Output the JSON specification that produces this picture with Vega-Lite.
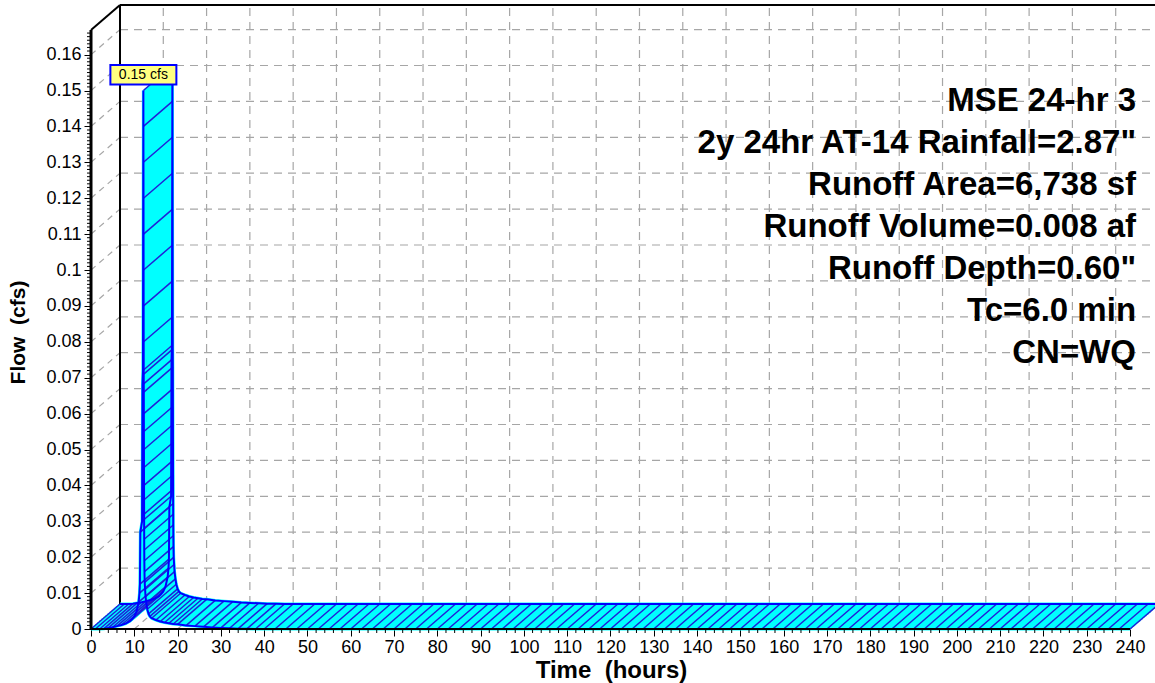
{
  "$schema": "https://vega.github.io/schema/vega-lite/v6.json",
  "width": 1064,
  "height": 629,
  "autosize": "none",
  "padding": {"left": 91, "top": 0, "right": 0, "bottom": 54},
  "background": "white",
  "config": {
    "view": {"stroke": null},
    "font": "Liberation Sans",
    "axis": {"labelFont": "Liberation Sans", "titleFont": "Liberation Sans", "labelColor": "black", "titleColor": "black", "tickColor": "black", "domain": false, "grid": false, "labelFontSize": 18, "titleFontSize": 24, "titleFontWeight": "bold", "labelOverlap": false, "labelFlush": false, "labelBound": false, "tickWidth": 1, "tickSize": 7, "tickCount": 100},
    "axisX": {"labelPadding": 2, "titlePadding": 2},
    "axisY": {"labelPadding": 3, "titlePadding": 17, "titleFontSize": 21}
  },
  "datasets": {
    "hydro": [
      {"t":0,"q":0},{"t":1,"q":0},{"t":2,"q":0},{"t":3,"q":0.0001},{"t":4,"q":0.0003},{"t":5,"q":0.0005},{"t":6,"q":0.0008},{"t":7,"q":0.0011},{"t":8,"q":0.0015},{"t":9,"q":0.0022},{"t":9.5,"q":0.0028},{"t":10,"q":0.0035},{"t":10.5,"q":0.0048},{"t":11,"q":0.0075},{"t":11.2,"q":0.01},{"t":11.3,"q":0.0125},{"t":11.4,"q":0.027},{"t":11.8,"q":0.03},{"t":11.9,"q":0.068},{"t":12,"q":0.072},{"t":12.1,"q":0.15},{"t":12.11,"q":0.14},{"t":12.12,"q":0.13},{"t":12.13,"q":0.12},{"t":12.14,"q":0.11},{"t":12.15,"q":0.1},{"t":12.16,"q":0.09},{"t":12.17,"q":0.08},{"t":12.18,"q":0.071},{"t":12.2,"q":0.066},{"t":12.21,"q":0.06},{"t":12.22,"q":0.055},{"t":12.23,"q":0.05},{"t":12.24,"q":0.045},{"t":12.25,"q":0.04},{"t":12.26,"q":0.036},{"t":12.27,"q":0.032},{"t":12.28,"q":0.028},{"t":12.29,"q":0.025},{"t":12.3,"q":0.022},{"t":12.32,"q":0.019},{"t":12.35,"q":0.016},{"t":12.4,"q":0.013},{"t":12.5,"q":0.011},{"t":12.6,"q":0.009},{"t":12.8,"q":0.007},{"t":13,"q":0.0055},{"t":13.3,"q":0.0042},{"t":13.6,"q":0.0035},{"t":14,"q":0.003},{"t":15,"q":0.0025},{"t":16,"q":0.0021},{"t":17,"q":0.0018},{"t":18,"q":0.0016},{"t":19,"q":0.0014},{"t":20,"q":0.0013},{"t":22,"q":0.001},{"t":24,"q":0.0008},{"t":26,"q":0.0006},{"t":28,"q":0.0004},{"t":30,"q":0.0003},{"t":32,"q":0.0002},{"t":34,"q":0.0001},{"t":36,"q":0.00005},{"t":38,"q":0},
      {"t":40,"q":0},{"t":42.5,"q":0},{"t":45,"q":0},{"t":47.5,"q":0},{"t":50,"q":0},{"t":52.5,"q":0},{"t":55,"q":0},{"t":57.5,"q":0},{"t":60,"q":0},{"t":62.5,"q":0},{"t":65,"q":0},{"t":67.5,"q":0},{"t":70,"q":0},{"t":72.5,"q":0},{"t":75,"q":0},{"t":77.5,"q":0},{"t":80,"q":0},{"t":82.5,"q":0},{"t":85,"q":0},{"t":87.5,"q":0},{"t":90,"q":0},{"t":92.5,"q":0},{"t":95,"q":0},{"t":97.5,"q":0},{"t":100,"q":0},{"t":102.5,"q":0},{"t":105,"q":0},{"t":107.5,"q":0},{"t":110,"q":0},{"t":112.5,"q":0},{"t":115,"q":0},{"t":117.5,"q":0},{"t":120,"q":0},{"t":122.5,"q":0},{"t":125,"q":0},{"t":127.5,"q":0},{"t":130,"q":0},{"t":132.5,"q":0},{"t":135,"q":0},{"t":137.5,"q":0},{"t":140,"q":0},{"t":142.5,"q":0},{"t":145,"q":0},{"t":147.5,"q":0},{"t":150,"q":0},{"t":152.5,"q":0},{"t":155,"q":0},{"t":157.5,"q":0},{"t":160,"q":0},{"t":162.5,"q":0},{"t":165,"q":0},{"t":167.5,"q":0},{"t":170,"q":0},{"t":172.5,"q":0},{"t":175,"q":0},{"t":177.5,"q":0},{"t":180,"q":0},{"t":182.5,"q":0},{"t":185,"q":0},{"t":187.5,"q":0},{"t":190,"q":0},{"t":192.5,"q":0},{"t":195,"q":0},{"t":197.5,"q":0},{"t":200,"q":0},{"t":202.5,"q":0},{"t":205,"q":0},{"t":207.5,"q":0},{"t":210,"q":0},{"t":212.5,"q":0},{"t":215,"q":0},{"t":217.5,"q":0},{"t":220,"q":0},{"t":222.5,"q":0},{"t":225,"q":0},{"t":227.5,"q":0},{"t":230,"q":0},{"t":232.5,"q":0},{"t":235,"q":0},{"t":237.5,"q":0},{"t":240,"q":0}
    ],
    "gridY": [{"q":0.01},{"q":0.02},{"q":0.03},{"q":0.04},{"q":0.05},{"q":0.06},{"q":0.07},{"q":0.08},{"q":0.09},{"q":0.1},{"q":0.11},{"q":0.12},{"q":0.13},{"q":0.14},{"q":0.15},{"q":0.16}],
    "gridX": [{"t":10},{"t":20},{"t":30},{"t":40},{"t":50},{"t":60},{"t":70},{"t":80},{"t":90},{"t":100},{"t":110},{"t":120},{"t":130},{"t":140},{"t":150},{"t":160},{"t":170},{"t":180},{"t":190},{"t":200},{"t":210},{"t":220},{"t":230},{"t":240}],
    "minorY": [{"v":0.001},{"v":0.002},{"v":0.003},{"v":0.004},{"v":0.005},{"v":0.006},{"v":0.007},{"v":0.008},{"v":0.009},{"v":0.011},{"v":0.012},{"v":0.013},{"v":0.014},{"v":0.015},{"v":0.016},{"v":0.017},{"v":0.018},{"v":0.019},{"v":0.021},{"v":0.022},{"v":0.023},{"v":0.024},{"v":0.025},{"v":0.026},{"v":0.027},{"v":0.028},{"v":0.029},{"v":0.031},{"v":0.032},{"v":0.033},{"v":0.034},{"v":0.035},{"v":0.036},{"v":0.037},{"v":0.038},{"v":0.039},{"v":0.041},{"v":0.042},{"v":0.043},{"v":0.044},{"v":0.045},{"v":0.046},{"v":0.047},{"v":0.048},{"v":0.049},{"v":0.051},{"v":0.052},{"v":0.053},{"v":0.054},{"v":0.055},{"v":0.056},{"v":0.057},{"v":0.058},{"v":0.059},{"v":0.061},{"v":0.062},{"v":0.063},{"v":0.064},{"v":0.065},{"v":0.066},{"v":0.067},{"v":0.068},{"v":0.069},{"v":0.071},{"v":0.072},{"v":0.073},{"v":0.074},{"v":0.075},{"v":0.076},{"v":0.077},{"v":0.078},{"v":0.079},{"v":0.081},{"v":0.082},{"v":0.083},{"v":0.084},{"v":0.085},{"v":0.086},{"v":0.087},{"v":0.088},{"v":0.089},{"v":0.091},{"v":0.092},{"v":0.093},{"v":0.094},{"v":0.095},{"v":0.096},{"v":0.097},{"v":0.098},{"v":0.099},{"v":0.101},{"v":0.102},{"v":0.103},{"v":0.104},{"v":0.105},{"v":0.106},{"v":0.107},{"v":0.108},{"v":0.109},{"v":0.111},{"v":0.112},{"v":0.113},{"v":0.114},{"v":0.115},{"v":0.116},{"v":0.117},{"v":0.118},{"v":0.119},{"v":0.121},{"v":0.122},{"v":0.123},{"v":0.124},{"v":0.125},{"v":0.126},{"v":0.127},{"v":0.128},{"v":0.129},{"v":0.131},{"v":0.132},{"v":0.133},{"v":0.134},{"v":0.135},{"v":0.136},{"v":0.137},{"v":0.138},{"v":0.139},{"v":0.141},{"v":0.142},{"v":0.143},{"v":0.144},{"v":0.145},{"v":0.146},{"v":0.147},{"v":0.148},{"v":0.149},{"v":0.151},{"v":0.152},{"v":0.153},{"v":0.154},{"v":0.155},{"v":0.156},{"v":0.157},{"v":0.158},{"v":0.159},{"v":0.161},{"v":0.162},{"v":0.163},{"v":0.164},{"v":0.165},{"v":0.166}],
    "minorX": [{"v":2},{"v":4},{"v":6},{"v":8},{"v":12},{"v":14},{"v":16},{"v":18},{"v":22},{"v":24},{"v":26},{"v":28},{"v":32},{"v":34},{"v":36},{"v":38},{"v":42},{"v":44},{"v":46},{"v":48},{"v":52},{"v":54},{"v":56},{"v":58},{"v":62},{"v":64},{"v":66},{"v":68},{"v":72},{"v":74},{"v":76},{"v":78},{"v":82},{"v":84},{"v":86},{"v":88},{"v":92},{"v":94},{"v":96},{"v":98},{"v":102},{"v":104},{"v":106},{"v":108},{"v":112},{"v":114},{"v":116},{"v":118},{"v":122},{"v":124},{"v":126},{"v":128},{"v":132},{"v":134},{"v":136},{"v":138},{"v":142},{"v":144},{"v":146},{"v":148},{"v":152},{"v":154},{"v":156},{"v":158},{"v":162},{"v":164},{"v":166},{"v":168},{"v":172},{"v":174},{"v":176},{"v":178},{"v":182},{"v":184},{"v":186},{"v":188},{"v":192},{"v":194},{"v":196},{"v":198},{"v":202},{"v":204},{"v":206},{"v":208},{"v":212},{"v":214},{"v":216},{"v":218},{"v":222},{"v":224},{"v":226},{"v":228},{"v":232},{"v":234},{"v":236},{"v":238}],
    "peak": [{"t":12.1,"q":0.15,"label":"0.15 cfs"}],
    "info": [{"text":"MSE 24-hr 3\n2y 24hr AT-14 Rainfall=2.87\"\nRunoff Area=6,738 sf\nRunoff Volume=0.008 af\nRunoff Depth=0.60\"\nTc=6.0 min\nCN=WQ"}],
    "one": [{}]
  },
  "layer": [
    {
      "data": {"name": "gridY"},
      "mark": {"type": "rule", "color": "#a6a6a6", "strokeWidth": 1.2, "strokeDash": [8, 6], "xOffset": 29, "yOffset": -25},
      "encoding": {
        "x": {"datum": 0, "type": "quantitative", "scale": {"domain": [0, 245.78], "nice": false, "zero": false}, "axis": {
          "values": [0,10,20,30,40,50,60,70,80,90,100,110,120,130,140,150,160,170,180,190,200,210,220,230,240],
          "title": "Time \u00a0(hours)", "format": "d", "labelOverlap": false, "tickCount": 100, "titleX": 520
        }},
        "x2": {"datum": 245.78},
        "y": {"field": "q", "type": "quantitative", "scale": {"domain": [0, 0.17521], "nice": false, "zero": false}, "axis": {
          "values": [0,0.01,0.02,0.03,0.04,0.05,0.06,0.07,0.08,0.09,0.1,0.11,0.12,0.13,0.14,0.15,0.16],
          "title": "Flow \u00a0(cfs)", "format": "~g", "labelOverlap": false, "tickCount": 100, "titleY": 332
        }}
      }
    },
    {
      "data": {"name": "gridX"},
      "mark": {"type": "rule", "color": "#a6a6a6", "strokeWidth": 1.2, "strokeDash": [8, 6], "xOffset": 29, "yOffset": -25, "y2Offset": -25},
      "encoding": {
        "x": {"field": "t", "type": "quantitative"},
        "y": {"datum": 0, "type": "quantitative"},
        "y2": {"datum": 0.16685}
      }
    },
    {
      "data": {"name": "gridY"},
      "mark": {"type": "rule", "color": "#a6a6a6", "strokeWidth": 1.2, "strokeDash": [6, 5], "x2Offset": 29, "y2Offset": -25},
      "encoding": {
        "x": {"datum": 0, "type": "quantitative"},
        "x2": {"datum": 0},
        "y": {"field": "q", "type": "quantitative"},
        "y2": {"field": "q"}
      }
    },
    {
      "data": {"name": "gridX"},
      "mark": {"type": "rule", "color": "#a6a6a6", "strokeWidth": 1.2, "strokeDash": [6, 5], "x2Offset": 29, "y2Offset": -25},
      "encoding": {
        "x": {"field": "t", "type": "quantitative"},
        "x2": {"field": "t"},
        "y": {"datum": 0, "type": "quantitative"},
        "y2": {"datum": 0}
      }
    },
    {
      "data": {"name": "one"},
      "mark": {"type": "rule", "color": "black", "strokeWidth": 2, "xOffset": 29, "yOffset": -25, "y2Offset": -25},
      "encoding": {"x": {"datum": 0, "type": "quantitative"}, "y": {"datum": 0, "type": "quantitative"}, "y2": {"datum": 0.16685}}
    },
    {
      "data": {"name": "one"},
      "mark": {"type": "rule", "color": "black", "strokeWidth": 2, "xOffset": 29, "yOffset": -25},
      "encoding": {"x": {"datum": 0, "type": "quantitative"}, "x2": {"datum": 245.78}, "y": {"datum": 0.16685, "type": "quantitative"}}
    },
    {
      "data": {"name": "one"},
      "mark": {"type": "rule", "color": "black", "strokeWidth": 2, "x2Offset": 29, "y2Offset": -25},
      "encoding": {"x": {"datum": 0, "type": "quantitative"}, "x2": {"datum": 0}, "y": {"datum": 0.16685, "type": "quantitative"}, "y2": {"datum": 0.16685}}
    },
    {"data": {"name": "hydro"}, "mark": {"type": "line", "color": "#00ffff", "strokeWidth": 3, "xOffset": 0, "yOffset": 0}, "encoding": {"x": {"field": "t", "type": "quantitative"}, "y": {"field": "q", "type": "quantitative"}}},
    {"data": {"name": "hydro"}, "mark": {"type": "line", "color": "#00ffff", "strokeWidth": 3, "xOffset": 2.07, "yOffset": -1.79}, "encoding": {"x": {"field": "t", "type": "quantitative"}, "y": {"field": "q", "type": "quantitative"}}},
    {"data": {"name": "hydro"}, "mark": {"type": "line", "color": "#00ffff", "strokeWidth": 3, "xOffset": 4.14, "yOffset": -3.57}, "encoding": {"x": {"field": "t", "type": "quantitative"}, "y": {"field": "q", "type": "quantitative"}}},
    {"data": {"name": "hydro"}, "mark": {"type": "line", "color": "#00ffff", "strokeWidth": 3, "xOffset": 6.21, "yOffset": -5.36}, "encoding": {"x": {"field": "t", "type": "quantitative"}, "y": {"field": "q", "type": "quantitative"}}},
    {"data": {"name": "hydro"}, "mark": {"type": "line", "color": "#00ffff", "strokeWidth": 3, "xOffset": 8.29, "yOffset": -7.14}, "encoding": {"x": {"field": "t", "type": "quantitative"}, "y": {"field": "q", "type": "quantitative"}}},
    {"data": {"name": "hydro"}, "mark": {"type": "line", "color": "#00ffff", "strokeWidth": 3, "xOffset": 10.36, "yOffset": -8.93}, "encoding": {"x": {"field": "t", "type": "quantitative"}, "y": {"field": "q", "type": "quantitative"}}},
    {"data": {"name": "hydro"}, "mark": {"type": "line", "color": "#00ffff", "strokeWidth": 3, "xOffset": 12.43, "yOffset": -10.71}, "encoding": {"x": {"field": "t", "type": "quantitative"}, "y": {"field": "q", "type": "quantitative"}}},
    {"data": {"name": "hydro"}, "mark": {"type": "line", "color": "#00ffff", "strokeWidth": 3, "xOffset": 14.5, "yOffset": -12.5}, "encoding": {"x": {"field": "t", "type": "quantitative"}, "y": {"field": "q", "type": "quantitative"}}},
    {"data": {"name": "hydro"}, "mark": {"type": "line", "color": "#00ffff", "strokeWidth": 3, "xOffset": 16.57, "yOffset": -14.29}, "encoding": {"x": {"field": "t", "type": "quantitative"}, "y": {"field": "q", "type": "quantitative"}}},
    {"data": {"name": "hydro"}, "mark": {"type": "line", "color": "#00ffff", "strokeWidth": 3, "xOffset": 18.64, "yOffset": -16.07}, "encoding": {"x": {"field": "t", "type": "quantitative"}, "y": {"field": "q", "type": "quantitative"}}},
    {"data": {"name": "hydro"}, "mark": {"type": "line", "color": "#00ffff", "strokeWidth": 3, "xOffset": 20.71, "yOffset": -17.86}, "encoding": {"x": {"field": "t", "type": "quantitative"}, "y": {"field": "q", "type": "quantitative"}}},
    {"data": {"name": "hydro"}, "mark": {"type": "line", "color": "#00ffff", "strokeWidth": 3, "xOffset": 22.79, "yOffset": -19.64}, "encoding": {"x": {"field": "t", "type": "quantitative"}, "y": {"field": "q", "type": "quantitative"}}},
    {"data": {"name": "hydro"}, "mark": {"type": "line", "color": "#00ffff", "strokeWidth": 3, "xOffset": 24.86, "yOffset": -21.43}, "encoding": {"x": {"field": "t", "type": "quantitative"}, "y": {"field": "q", "type": "quantitative"}}},
    {"data": {"name": "hydro"}, "mark": {"type": "line", "color": "#00ffff", "strokeWidth": 3, "xOffset": 26.93, "yOffset": -23.21}, "encoding": {"x": {"field": "t", "type": "quantitative"}, "y": {"field": "q", "type": "quantitative"}}},
    {"data": {"name": "hydro"}, "mark": {"type": "line", "color": "#00ffff", "strokeWidth": 3, "xOffset": 29, "yOffset": -25}, "encoding": {"x": {"field": "t", "type": "quantitative"}, "y": {"field": "q", "type": "quantitative"}}},
    {
      "data": {"name": "hydro"},
      "mark": {"type": "rule", "color": "#2020d8", "strokeWidth": 1.5, "x2Offset": 29, "y2Offset": -25},
      "encoding": {"x": {"field": "t", "type": "quantitative"}, "x2": {"field": "t"}, "y": {"field": "q", "type": "quantitative"}, "y2": {"field": "q"}}
    },
    {
      "data": {"name": "hydro"},
      "mark": {"type": "line", "color": "#0000ff", "strokeWidth": 2, "xOffset": 29, "yOffset": -25},
      "encoding": {"x": {"field": "t", "type": "quantitative"}, "y": {"field": "q", "type": "quantitative"}}
    },
    {
      "data": {"name": "hydro"},
      "mark": {"type": "line", "color": "#0000ff", "strokeWidth": 2},
      "encoding": {"x": {"field": "t", "type": "quantitative"}, "y": {"field": "q", "type": "quantitative"}}
    },
    {
      "data": {"name": "minorY"},
      "mark": {"type": "rule", "color": "black", "strokeWidth": 1, "xOffset": -4},
      "encoding": {"x": {"datum": 0, "type": "quantitative"}, "x2": {"datum": 0}, "y": {"field": "v", "type": "quantitative"}}
    },
    {
      "data": {"name": "minorX"},
      "mark": {"type": "rule", "color": "black", "strokeWidth": 1, "y2Offset": 4},
      "encoding": {"x": {"field": "v", "type": "quantitative"}, "y": {"datum": 0, "type": "quantitative"}, "y2": {"datum": 0}}
    },
    {
      "data": {"name": "one"},
      "mark": {"type": "rule", "color": "black", "strokeWidth": 2},
      "encoding": {"x": {"datum": 0, "type": "quantitative"}, "x2": {"datum": 240}, "y": {"datum": 0, "type": "quantitative"}}
    },
    {
      "data": {"name": "one"},
      "mark": {"type": "rule", "color": "black", "strokeWidth": 3},
      "encoding": {"x": {"datum": 0, "type": "quantitative"}, "y": {"datum": 0, "type": "quantitative"}, "y2": {"datum": 0.16685}}
    },
    {
      "data": {"name": "peak"},
      "mark": {"type": "rect", "fill": "#ffff80", "stroke": "#0000ff", "strokeWidth": 2, "xOffset": -33, "x2Offset": 33, "yOffset": -25.5, "y2Offset": -6},
      "encoding": {"x": {"field": "t", "type": "quantitative"}, "x2": {"field": "t"}, "y": {"field": "q", "type": "quantitative"}, "y2": {"field": "q"}}
    },
    {
      "data": {"name": "peak"},
      "mark": {"type": "text", "font": "Liberation Sans", "fontSize": 14, "color": "black", "align": "center", "baseline": "middle", "dy": -15.5},
      "encoding": {"x": {"field": "t", "type": "quantitative"}, "y": {"field": "q", "type": "quantitative"}, "text": {"field": "label"}}
    },
    {
      "data": {"name": "info"},
      "mark": {"type": "text", "font": "Liberation Sans", "fontSize": 33, "fontWeight": "bold", "color": "black", "align": "right", "baseline": "alphabetic", "lineHeight": 42, "lineBreak": "\n"},
      "encoding": {"x": {"datum": 241.4, "type": "quantitative"}, "y": {"datum": 0.14429, "type": "quantitative"}, "text": {"field": "text"}}
    }
  ]
}
